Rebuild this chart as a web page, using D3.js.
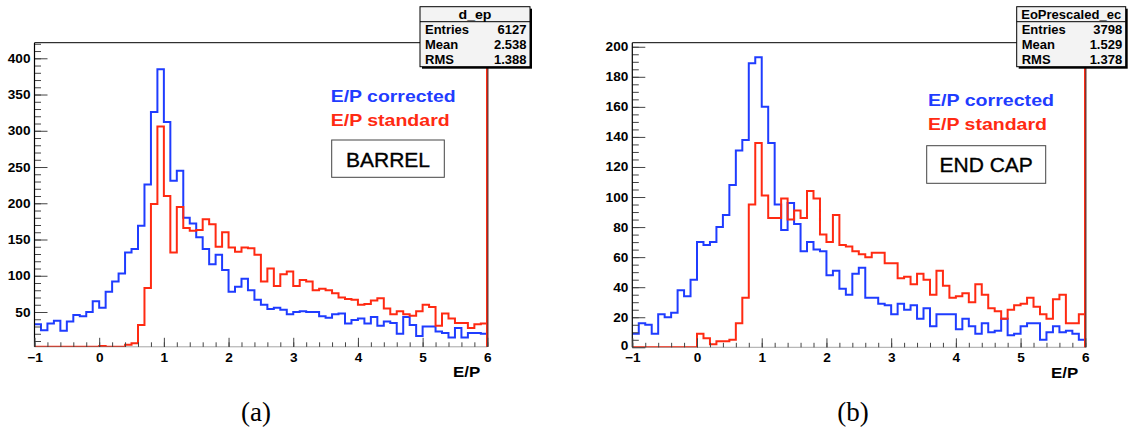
<!DOCTYPE html>
<html>
<head>
<meta charset="utf-8">
<script src="https://cdn.jsdelivr.net/npm/d3@7"></script>
<style>
  html, body { margin: 0; padding: 0; background: #ffffff; }
  svg { display: block; }
  .root { font-family: "Liberation Sans", Arial, sans-serif; font-weight: bold; }
</style>
</head>
<body>
<svg id="chart" width="1134" height="437"></svg>
<script>
// ---------------- DATA ----------------
const binStart = -1.0;
const binWidth = 0.1;
const xTickValues = [-1, 0, 1, 2, 3, 4, 5, 6];

// BARREL (d_ep) — bins from -1.0 to 6.0, width 0.1
const barrelCorrected = [
  33, 25, 34, 38, 24, 37, 46, 44, 50, 65,
  56, 78, 92, 103, 132, 137, 169, 226, 326, 385,
  312, 231, 245, 180, 172, 153, 137, 116, 129, 108,
  78, 85, 96, 80, 67, 60, 54, 56, 53, 47,
  50, 51, 50, 50, 44, 42, 47, 48, 34, 39,
  41, 34, 43, 31, 37, 35, 20, 43, 32, 17,
  30, 30, 23, 21, 15, 28, 15, 21, 21, 20
];
const barrelStandard = [
  0, 0, 0, 0, 0, 0, 0, 0, 0, 0,
  3, 0, 0, 0, 5, 7, 32, 83, 199, 306,
  210, 132, 195, 166, 162, 163, 178, 171, 140, 160,
  139, 133, 139, 138, 129, 92, 110, 86, 102, 106,
  86, 94, 92, 80, 82, 80, 76, 70, 68, 67,
  60, 61, 66, 69, 55, 47, 51, 47, 45, 51,
  60, 57, 31, 48, 41, 35, 35, 28, 33, 34
];
const barrelYTicks = [50, 100, 150, 200, 250, 300, 350, 400];

// END CAP (EoPrescaled_ec)
const endcapCorrected = [
  9, 16, 15, 9, 22, 20, 23, 38, 34, 45,
  70, 68, 70, 80, 88, 108, 131, 138, 189, 193,
  160, 136, 95, 78, 96, 82, 64, 70, 65, 64,
  48, 51, 39, 35, 49, 53, 33, 33, 29, 28,
  22, 29, 25, 28, 19, 26, 14, 22, 22, 22,
  12, 19, 14, 9, 16, 10, 11, 19, 8, 9,
  14, 16, 16, 5, 10, 14, 10, 11, 9, 5
];
const endcapStandard = [
  0, 0, 0, 0, 0, 0, 0, 0, 0, 0,
  9, 6, 2, 4, 4, 5, 16, 33, 95, 136,
  101, 86, 86, 99, 85, 91, 86, 104, 99, 75,
  70, 88, 68, 67, 64, 62, 60, 63, 63, 56,
  56, 46, 47, 42, 49, 45, 35, 51, 41, 33,
  34, 36, 30, 42, 35, 26, 24, 19, 25, 28,
  29, 33, 27, 22, 19, 32, 35, 16, 16, 22
];
const endcapYTicks = [0, 20, 40, 60, 80, 100, 120, 140, 160, 180, 200];

const statLabels = ["Entries", "Mean", "RMS"];
const barrelStats = ["6127", "2.538", "1.388"];
const endcapStats = ["3798", "1.529", "1.378"];
const legendLabels = ["E/P corrected", "E/P standard"];
const seriesColors = ["#1f3cff", "#ff2a12"];

// ---------------- DRAW ----------------
const svg = d3.select("#chart");

function drawPanel(cfg) {
  const g = svg.append("g").attr("class", "root");
  const x = d3.scaleLinear().domain([-1, 6]).range([cfg.x0, cfg.x1]);
  const y = d3.scaleLinear().domain(cfg.yDomain).range([cfg.yBot, cfg.yTop]).clamp(true);

  const clipId = "clip-" + cfg.id;
  svg.append("clipPath").attr("id", clipId)
    .append("rect")
    .attr("x", cfg.x0).attr("y", cfg.yTop)
    .attr("width", cfg.x1 - cfg.x0).attr("height", cfg.yBot - cfg.yTop);

  // frame top line
  g.append("line")
    .attr("x1", cfg.x0).attr("x2", cfg.x1)
    .attr("y1", cfg.yTop).attr("y2", cfg.yTop)
    .attr("stroke", "#000").attr("stroke-width", 1);

  // histograms
  const line = d3.line().curve(d3.curveStepAfter)
    .x(d => x(d[0])).y(d => y(d[1]));
  [cfg.corrected, cfg.standard].forEach((vals, si) => {
    const pts = vals.map((v, i) => [binStart + i * binWidth, v]);
    pts.push([6, vals[vals.length - 1]]);
    g.append("path")
      .attr("d", line(pts))
      .attr("fill", "none")
      .attr("stroke", seriesColors[si])
      .attr("stroke-width", 2)
      .attr("stroke-linejoin", "miter")
      .attr("clip-path", "url(#" + clipId + ")");
  });

  // right frame edge (red/dark)
  g.append("line")
    .attr("x1", cfg.x1 - 0.5).attr("x2", cfg.x1 - 0.5)
    .attr("y1", cfg.yTop).attr("y2", cfg.yBot)
    .attr("stroke", seriesColors[1]).attr("stroke-width", 1.6);
  g.append("line")
    .attr("x1", cfg.x1 + 0.6).attr("x2", cfg.x1 + 0.6)
    .attr("y1", cfg.yTop).attr("y2", cfg.yBot)
    .attr("stroke", "#3a0000").attr("stroke-width", 1);

  // Y axis: minor ticks
  const yMinor = d3.range(cfg.yMinorStart, cfg.yDomain[1], cfg.yMinorStep);
  const yMinorAxis = d3.axisLeft(y).tickValues(yMinor).tickSize(-6.5).tickFormat("");
  const gym = g.append("g").attr("transform", `translate(${cfg.x0},0)`).call(yMinorAxis);
  gym.select(".domain").remove();
  gym.selectAll(".tick line").attr("stroke", "#444");

  // Y axis: major
  const yAxis = d3.axisLeft(y).tickValues(cfg.yTicks).tickSize(-13).tickPadding(4).tickFormat(d3.format("d"));
  const gy = g.append("g").attr("transform", `translate(${cfg.x0},0)`).call(yAxis);
  gy.select(".domain").remove();
  gy.selectAll(".tick line").attr("stroke", "#444");
  gy.selectAll(".tick text")
    .attr("class", "stretch")
    .attr("font-family", "Liberation Sans, Arial, sans-serif")
    .attr("font-weight", "bold").attr("font-size", 12.5).attr("fill", "#000")
    .attr("dy", d => d === 0 ? "0.2em" : "0.32em");
  g.append("line")
    .attr("x1", cfg.x0).attr("x2", cfg.x0)
    .attr("y1", cfg.yTop).attr("y2", cfg.yBot)
    .attr("stroke", "#000").attr("stroke-width", 1.2);

  // X axis: minor
  const xMinor = d3.range(-1, 6.001, 0.2).map(v => Math.round(v * 10) / 10);
  const xMinorAxis = d3.axisBottom(x).tickValues(xMinor).tickSize(-4.5).tickFormat("");
  const gxm = g.append("g").attr("transform", `translate(0,${cfg.yBot})`).call(xMinorAxis);
  gxm.select(".domain").remove();
  gxm.selectAll(".tick line").attr("stroke", "#444");

  const xAxis = d3.axisBottom(x).tickValues(xTickValues).tickSize(-9).tickPadding(6.3).tickFormat(d3.format("d"));
  const gx = g.append("g").attr("transform", `translate(0,${cfg.yBot})`).call(xAxis);
  gx.select(".domain").remove();
  gx.selectAll(".tick line").attr("stroke", "#444");
  gx.selectAll(".tick text")
    .attr("class", "stretch")
    .attr("font-family", "Liberation Sans, Arial, sans-serif")
    .attr("font-weight", "bold").attr("font-size", 12.5).attr("fill", "#000");

  // axis base line
  g.append("line")
    .attr("x1", cfg.x0).attr("x2", cfg.x1)
    .attr("y1", cfg.yBot).attr("y2", cfg.yBot)
    .attr("stroke", "#000").attr("stroke-width", 1)
    .attr("opacity", 0.35);

  // axis title
  g.append("text")
    .attr("class", "stretch")
    .attr("x", cfg.x1 - 7).attr("y", cfg.yBot + 30.5)
    .attr("text-anchor", "end")
    .attr("font-size", 15.5).attr("fill", "#000")
    .text("E/P");

  // legend
  legendLabels.forEach((lab, i) => {
    g.append("text")
      .attr("x", cfg.legX).attr("y", cfg.legY + i * 23.5)
      .attr("font-size", 17).attr("fill", seriesColors[i])
      .attr("textLength", cfg.legLen[i]).attr("lengthAdjust", "spacingAndGlyphs")
      .text(lab);
  });

  // region box
  g.append("rect")
    .attr("x", cfg.boxX).attr("y", cfg.boxY)
    .attr("width", cfg.boxW).attr("height", cfg.boxH)
    .attr("fill", "#fff").attr("stroke", "#444").attr("stroke-width", 1);
  g.append("text")
    .attr("x", cfg.boxX + cfg.boxW / 2).attr("y", cfg.boxY + 26.7)
    .attr("text-anchor", "middle")
    .attr("font-weight", "normal").attr("font-size", 21).attr("fill", "#000")
    .attr("stroke", "#000").attr("stroke-width", 0.35)
    .text(cfg.region);

  // stats box
  const sx = cfg.statX, sy = 6.7, sw = cfg.statW, sh = 60;
  g.append("rect").attr("x", sx + 2).attr("y", sy + 2).attr("width", sw).attr("height", sh).attr("fill", "#000");
  g.append("rect").attr("x", sx).attr("y", sy).attr("width", sw).attr("height", sh)
    .attr("fill", "#f3f3f3").attr("stroke", "#000").attr("stroke-width", 1);
  g.append("line").attr("x1", sx).attr("x2", sx + sw).attr("y1", sy + 15).attr("y2", sy + 15)
    .attr("stroke", "#000").attr("stroke-width", 1);
  g.append("text").attr("x", sx + sw / 2).attr("y", sy + 11.8)
    .attr("text-anchor", "middle").attr("font-size", 13).attr("fill", "#000")
    .attr("textLength", cfg.titleLen).attr("lengthAdjust", "spacingAndGlyphs")
    .text(cfg.name);
  statLabels.forEach((lab, i) => {
    g.append("text").attr("x", sx + 5).attr("y", sy + 27.6 + i * 15)
      .attr("font-size", 13).attr("fill", "#000").text(lab);
    g.append("text").attr("x", sx + sw - 3.5).attr("y", sy + 27.6 + i * 15)
      .attr("text-anchor", "end").attr("font-size", 13).attr("fill", "#000").text(cfg.stats[i]);
  });
}

drawPanel({
  id: "barrel", name: "d_ep", region: "BARREL",
  x0: 34.5, x1: 487.3, yTop: 42.7, yBot: 346.8,
  yDomain: [2, 421.5], yTicks: barrelYTicks, yMinorStart: 10, yMinorStep: 10,
  corrected: barrelCorrected, standard: barrelStandard, stats: barrelStats,
  legX: 330.7, legY: 102, legLen: [125, 119],
  boxX: 331.7, boxY: 140, boxW: 112.6, boxH: 37.3,
  statX: 420, statW: 110, titleLen: 33
});

drawPanel({
  id: "endcap", name: "EoPrescaled_ec", region: "END CAP",
  x0: 632.3, x1: 1085.3, yTop: 42.7, yBot: 347.3,
  yDomain: [0, 202.7], yTicks: endcapYTicks, yMinorStart: 5, yMinorStep: 5,
  corrected: endcapCorrected, standard: endcapStandard, stats: endcapStats,
  legX: 928, legY: 106, legLen: [126, 119],
  boxX: 926.7, boxY: 145.7, boxW: 119, boxH: 37.6,
  statX: 1016.7, statW: 109, titleLen: 100
});

// sub-figure captions
const captions = [{ t: "(a)", x: 256 }, { t: "(b)", x: 853 }];
captions.forEach(c => {
  svg.append("text").attr("x", c.x).attr("y", 421)
    .attr("text-anchor", "middle")
    .attr("font-family", "Liberation Serif, 'DejaVu Serif', serif")
    .attr("font-size", 27).attr("fill", "#000")
    .text(c.t);
});

// horizontal stretch of ROOT-like bold text
svg.selectAll("text.stretch").each(function () {
  const len = this.getComputedTextLength();
  d3.select(this).attr("textLength", len * 1.09).attr("lengthAdjust", "spacingAndGlyphs");
});
</script>
</body>
</html>
